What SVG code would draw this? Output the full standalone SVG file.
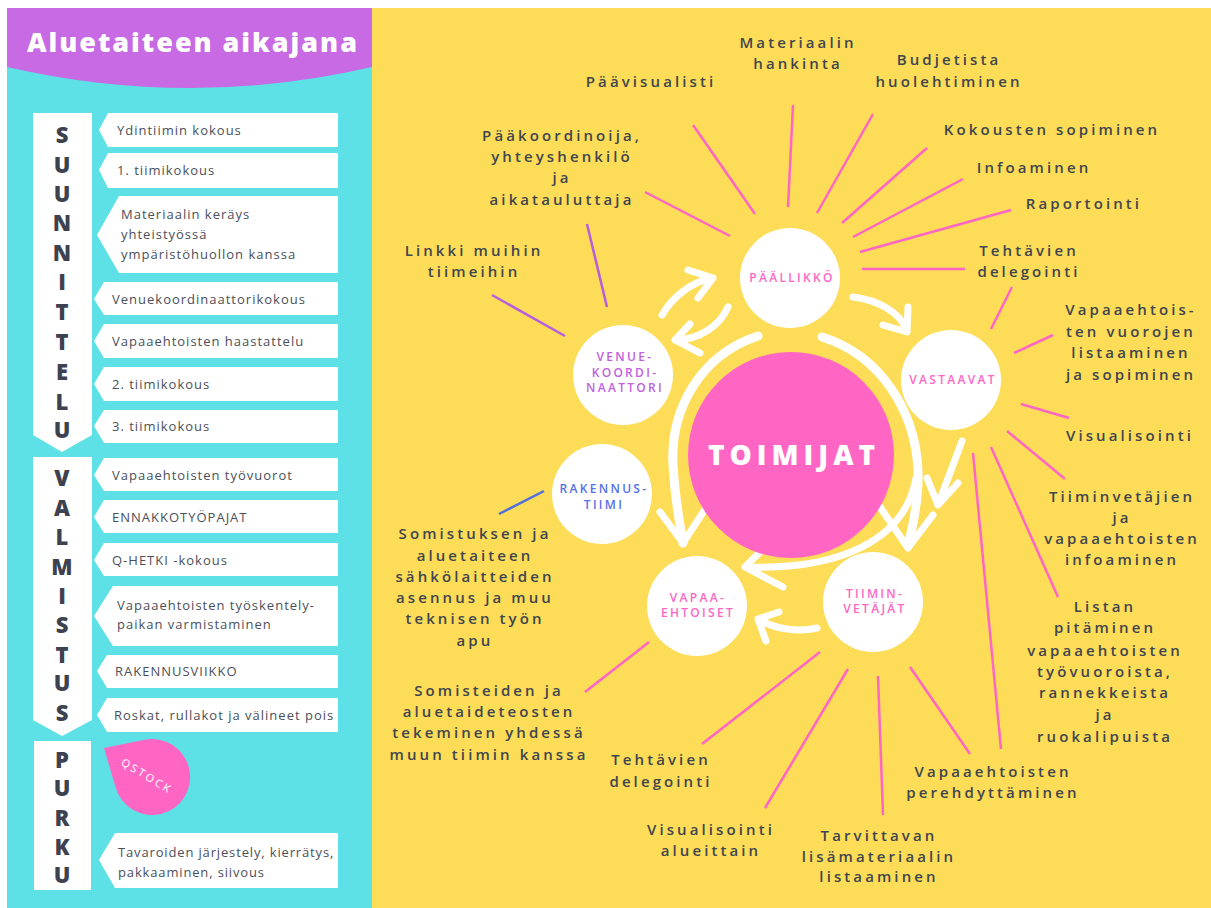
<svg xmlns="http://www.w3.org/2000/svg" width="1211" height="908" viewBox="0 0 1211 908">
<defs>
<style>
.tl{font-family:"Open Sans","Liberation Sans",sans-serif;font-size:13px;fill:#4a4f5a;letter-spacing:1px;font-weight:500}
.tl2{letter-spacing:0.85px}
.box{fill:#fff}
.vl{font-family:"Open Sans","Liberation Sans",sans-serif;font-size:22px;font-weight:800;fill:#3e4250;text-anchor:middle}
.lab{font-family:"Open Sans","Liberation Sans",sans-serif;font-size:15px;font-weight:600;fill:#41454e;text-anchor:middle;letter-spacing:3.1px}
.cl{font-family:"Open Sans","Liberation Sans",sans-serif;font-size:12px;font-weight:600;text-anchor:middle;letter-spacing:2.3px}
.pk{fill:#ff66c4}
.pu{fill:#c061de}
.bu{fill:#5570e8}
.node{fill:#fff}
.sp{stroke:#ff66c4;stroke-width:2.5;fill:none}
.spu{stroke:#b85ddc;stroke-width:2.5;fill:none}
.sbl{stroke:#4f6ee0;stroke-width:2.5;fill:none}
.arr{fill:none;stroke:#fff;stroke-width:7;stroke-linecap:round;stroke-linejoin:round}
.ring{fill:none;stroke:#fff;stroke-width:9;stroke-linecap:round;stroke-linejoin:round}
</style>
</defs>
<rect x="0" y="0" width="1211" height="908" fill="#fff"/>
<rect x="7" y="8" width="365" height="900" fill="#5de1e6"/>
<rect x="372" y="8" width="839" height="900" fill="#fddc58"/>
<path d="M7,8 H372 V67 Q190,109 7,67 Z" fill="#c76ae3"/>
<text x="27" y="52" font-family="'Open Sans','Liberation Sans',sans-serif" font-size="27" font-weight="800" fill="#fff" textLength="330" lengthAdjust="spacing">Aluetaiteen aikajana</text>

<g id="phase-suunnittelu">
<polygon points="33,113 92,113 92,435 62,452 33,435" fill="#fff"/>
<text class="vl" x="62" y="143">S</text><text class="vl" x="62" y="173">U</text><text class="vl" x="62" y="202">U</text><text class="vl" x="62" y="231">N</text><text class="vl" x="62" y="261">N</text><text class="vl" x="62" y="290">I</text><text class="vl" x="62" y="320">T</text><text class="vl" x="62" y="350">T</text><text class="vl" x="62" y="380">E</text><text class="vl" x="62" y="410">L</text><text class="vl" x="62" y="438">U</text>
</g>
<g id="phase-valmistus">
<polygon points="33,457 92,457 92,720 62,736 33,720" fill="#fff"/>
<text class="vl" x="62" y="486">V</text><text class="vl" x="62" y="516">A</text><text class="vl" x="62" y="545">L</text><text class="vl" x="62" y="575">M</text><text class="vl" x="62" y="604">I</text><text class="vl" x="62" y="633">S</text><text class="vl" x="62" y="663">T</text><text class="vl" x="62" y="691">U</text><text class="vl" x="62" y="721">S</text>
</g>
<g id="phase-purku">
<rect x="34" y="741" width="57" height="149" fill="#fff"/>
<text class="vl" x="62" y="768">P</text><text class="vl" x="62" y="796">U</text><text class="vl" x="62" y="826">R</text><text class="vl" x="62" y="855">K</text><text class="vl" x="62" y="883">U</text>
</g>

<g id="t1"><polygon class="box" points="99,130 108,113 338,113 338,147 108,147"/><text class="tl" x="117" y="134.5">Ydintiimin kokous</text></g>
<g id="t2"><polygon class="box" points="99,170 108,153 338,153 338,188 108,188"/><text class="tl" x="117" y="174.5">1. tiimikokous</text></g>
<g id="t3"><polygon class="box" points="97,235 119,196 338,196 338,273 119,273"/><text class="tl" x="121" y="218.5">Materiaalin keräys</text><text class="tl" x="121" y="238.5">yhteistyössä</text><text class="tl" x="121" y="259">ympäristöhuollon kanssa</text></g>
<g id="t4"><polygon class="box" points="94,299 104,282 338,282 338,315 104,315"/><text class="tl" x="112" y="303.5">Venuekoordinaattorikokous</text></g>
<g id="t5"><polygon class="box" points="94,341 104,324 338,324 338,358 104,358"/><text class="tl" x="112" y="345.5">Vapaaehtoisten haastattelu</text></g>
<g id="t6"><polygon class="box" points="94,384 104,367 338,367 338,401 104,401"/><text class="tl" x="112" y="388.5">2. tiimikokous</text></g>
<g id="t7"><polygon class="box" points="94,426 104,410 338,410 338,443 104,443"/><text class="tl" x="112" y="430.5">3. tiimikokous</text></g>
<g id="t8"><polygon class="box" points="94,475 104,458 338,458 338,491 104,491"/><text class="tl" x="112" y="479.5">Vapaaehtoisten työvuorot</text></g>
<g id="t9"><polygon class="box" points="94,517 104,500 338,500 338,533 104,533"/><text class="tl" x="112" y="521.5">ENNAKKOTYÖPAJAT</text></g>
<g id="t10"><polygon class="box" points="94,560 104,543 338,543 338,576 104,576"/><text class="tl" x="112" y="564.5">Q-HETKI -kokous</text></g>
<g id="t11"><polygon class="box" points="94,616 113,586 338,586 338,646 113,646"/><text class="tl" x="117" y="609.5">Vapaaehtoisten työskentely-</text><text class="tl" x="117" y="628.5">paikan varmistaminen</text></g>
<g id="t12"><polygon class="box" points="97,671 107,655 338,655 338,688 107,688"/><text class="tl" x="115" y="675.5">RAKENNUSVIIKKO</text></g>
<g id="t13"><polygon class="box" points="97,715 107,698 338,698 338,732 107,732"/><text class="tl" x="114" y="719.5">Roskat, rullakot ja välineet pois</text></g>
<g id="t14"><polygon class="box" points="99,860 115,833 338,833 338,888 115,888"/><text class="tl tl2" x="118" y="856.5">Tavaroiden järjestely, kierrätys,</text><text class="tl tl2" x="118" y="876.5">pakkaaminen, siivous</text></g>

<g id="qstock">
<path d="M104,748 L144.5,739.8 A38,38 0 1 1 115.6,787.6 Z" fill="#ff66c4"/>
<text x="147" y="780" transform="rotate(31 147 776)" font-family="'Open Sans','Liberation Sans',sans-serif" font-size="11" fill="#fff" text-anchor="middle" letter-spacing="2.5">QSTOCK</text>
</g>

<g id="connectors">
<line class="sp" x1="693" y1="125" x2="755" y2="214"/>
<line class="sp" x1="793" y1="105" x2="788" y2="207"/>
<line class="sp" x1="645" y1="192" x2="730" y2="236"/>
<line class="sp" x1="873" y1="114" x2="817" y2="213"/>
<line class="sp" x1="927" y1="148" x2="842" y2="223"/>
<line class="sp" x1="963" y1="179" x2="853" y2="237"/>
<line class="sp" x1="1011" y1="210" x2="860" y2="252"/>
<line class="sp" x1="862" y1="269" x2="965" y2="269"/>
<line class="spu" x1="492" y1="295" x2="565" y2="336"/>
<line class="spu" x1="587" y1="224" x2="607" y2="307"/>
<line class="sbl" x1="499" y1="514" x2="544" y2="491"/>
<line class="sp" x1="585" y1="692" x2="649" y2="642"/>
<line class="sp" x1="1012" y1="287" x2="991" y2="329"/>
<line class="sp" x1="1053" y1="335" x2="1014" y2="353"/>
<line class="sp" x1="1021" y1="404" x2="1069" y2="418"/>
<line class="sp" x1="1007" y1="431" x2="1065" y2="479"/>
<line class="sp" x1="991" y1="447" x2="1058" y2="597"/>
<line class="sp" x1="973" y1="453" x2="1001" y2="749"/>
<line class="sp" x1="910" y1="667" x2="970" y2="754"/>
<line class="sp" x1="878" y1="676" x2="883" y2="815"/>
<line class="sp" x1="848" y1="669" x2="765" y2="808"/>
<line class="sp" x1="820" y1="652" x2="702" y2="744"/>

<path class="arr" d="M662,315 C672,298 690,282 713,278 M688,270 L713,278 L698,298"/>
<path class="arr" d="M728,307 C720,325 700,340 675,340 M690,324 L675,340 L700,353"/>
<path class="arr" d="M853,297 C878,300 900,312 907,331 M883,325 L907,332 L908,307"/>
<path class="ring" d="M758,336 C700,355 670,410 673,465 C675,500 680,525 683,543"/>
<path class="arr" d="M660,512 L683,543 L713,497"/>
<path class="ring" d="M822,337 C880,355 915,410 918,470 C919,500 912,530 908,546"/>
<path class="arr" d="M878,504 L908,548 L933,515"/>
<path class="arr" d="M916,478 C905,540 840,570 747,567 M782,530 L745,567 L783,587"/>
<path class="arr" d="M962,441 L938,505 M927,478 L938,505 L958,483"/>
<path class="arr" d="M817,628 C800,632 775,630 759,619 M779,612 L758,619 L766,641"/>
</g>

<g id="toimijat"><circle cx="791" cy="455" r="103" fill="#ff66c4"/><text x="794" y="465" font-family="'Open Sans','Liberation Sans',sans-serif" font-size="28" font-weight="800" fill="#fff" text-anchor="middle" letter-spacing="5">TOIMIJAT</text></g>
<g id="paallikko"><circle class="node" cx="790" cy="278" r="50"/><text class="cl pk" x="792" y="282">PÄÄLLIKKÖ</text></g>
<g id="vastaavat"><circle class="node" cx="951" cy="380" r="50"/><text class="cl pk" x="953" y="384">VASTAAVAT</text></g>
<g id="venuekoordinaattori"><circle class="node" cx="623" cy="375" r="50"/><text class="cl pu" x="625" y="361">VENUE-</text><text class="cl pu" x="625" y="377">KOORDI-</text><text class="cl pu" x="625" y="392">NAATTORI</text></g>
<g id="rakennustiimi"><circle class="node" cx="602" cy="494" r="50"/><text class="cl bu" x="604" y="493">RAKENNUS-</text><text class="cl bu" x="604" y="509">TIIMI</text></g>
<g id="vapaaehtoiset"><circle class="node" cx="697" cy="606" r="50"/><text class="cl pk" x="698" y="602">VAPAA-</text><text class="cl pk" x="698" y="617">EHTOISET</text></g>
<g id="tiiminvetajat"><circle class="node" cx="873" cy="602" r="50"/><text class="cl pk" x="875" y="598">TIIMIN-</text><text class="cl pk" x="875" y="613">VETÄJÄT</text></g>

<g id="labels">
<text class="lab" x="651" y="87">Päävisualisti</text>
<text class="lab" x="798" y="48">Materiaalin</text><text class="lab" x="798" y="69">hankinta</text>
<text class="lab" x="949" y="65">Budjetista</text><text class="lab" x="949" y="87">huolehtiminen</text>
<text class="lab" x="1052" y="135">Kokousten sopiminen</text>
<text class="lab" x="1034" y="173">Infoaminen</text>
<text class="lab" x="1084" y="209">Raportointi</text>
<text class="lab" x="1029" y="256">Tehtävien</text><text class="lab" x="1029" y="277">delegointi</text>
<text class="lab" x="1131" y="315">Vapaaehtois-</text><text class="lab" x="1131" y="337">ten vuorojen</text><text class="lab" x="1131" y="358">listaaminen</text><text class="lab" x="1131" y="380">ja sopiminen</text>
<text class="lab" x="1130" y="441">Visualisointi</text>
<text class="lab" x="1122" y="502">Tiiminvetäjien</text><text class="lab" x="1122" y="523">ja</text><text class="lab" x="1122" y="544">vapaaehtoisten</text><text class="lab" x="1122" y="565">infoaminen</text>
<text class="lab" x="1105" y="612">Listan</text><text class="lab" x="1105" y="633">pitäminen</text><text class="lab" x="1105" y="656">vapaaehtoisten</text><text class="lab" x="1105" y="677">työvuoroista,</text><text class="lab" x="1105" y="698">rannekkeista</text><text class="lab" x="1105" y="720">ja</text><text class="lab" x="1105" y="742">ruokalipuista</text>
<text class="lab" x="993" y="777">Vapaaehtoisten</text><text class="lab" x="993" y="798">perehdyttäminen</text>
<text class="lab" x="879" y="841">Tarvittavan</text><text class="lab" x="879" y="862">lisämateriaalin</text><text class="lab" x="879" y="882">listaaminen</text>
<text class="lab" x="711" y="835">Visualisointi</text><text class="lab" x="711" y="856">alueittain</text>
<text class="lab" x="661" y="765">Tehtävien</text><text class="lab" x="661" y="787">delegointi</text>
<text class="lab" x="489" y="696">Somisteiden ja</text><text class="lab" x="489" y="717">aluetaideteosten</text><text class="lab" x="489" y="738">tekeminen yhdessä</text><text class="lab" x="489" y="760">muun tiimin kanssa</text>
<text class="lab" x="475" y="539">Somistuksen ja</text><text class="lab" x="475" y="561">aluetaiteen</text><text class="lab" x="475" y="582">sähkölaitteiden</text><text class="lab" x="475" y="603">asennus ja muu</text><text class="lab" x="475" y="624">teknisen työn</text><text class="lab" x="475" y="646">apu</text>
<text class="lab" x="562" y="141">Pääkoordinoija,</text><text class="lab" x="562" y="162">yhteyshenkilö</text><text class="lab" x="562" y="183">ja</text><text class="lab" x="562" y="205">aikatauluttaja</text>
<text class="lab" x="474" y="256">Linkki muihin</text><text class="lab" x="474" y="277">tiimeihin</text>
</g>
</svg>
